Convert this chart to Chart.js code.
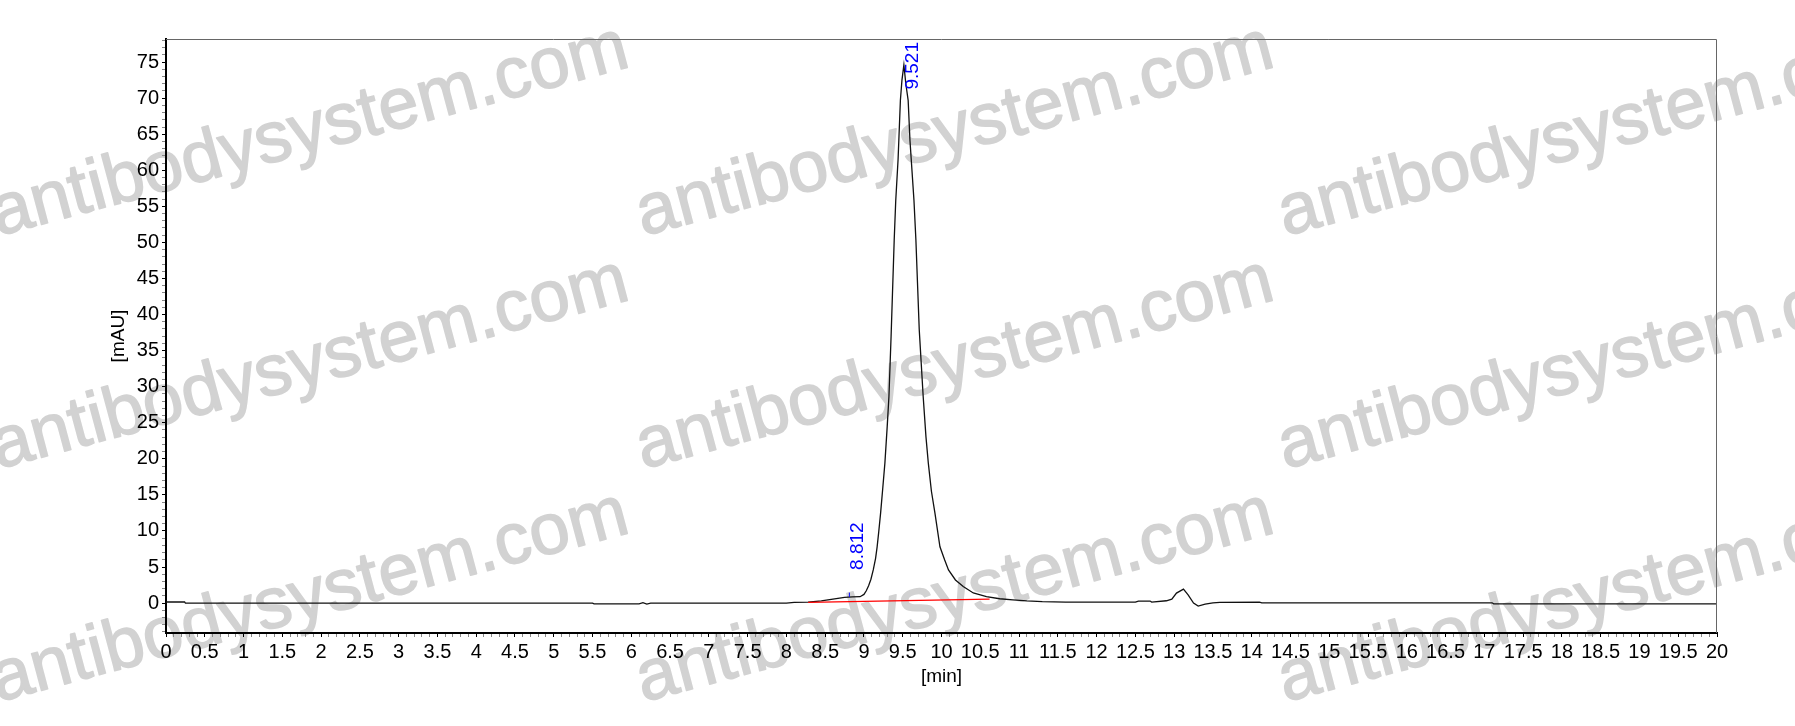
<!DOCTYPE html>
<html>
<head>
<meta charset="utf-8">
<title>Chromatogram</title>
<script src="https://cdn.jsdelivr.net/npm/chart.js@4.4.1/dist/chart.umd.min.js"></script>
<style>
  html, body { margin: 0; padding: 0; background: #fff; }
  #wrap { width: 1795px; height: 726px; }
</style>
</head>
<body>
<div id="wrap"><canvas id="chromChart" width="1795" height="726"></canvas></div>
<script>
// Retention time [min] and detector signal [mAU]
const retentionTimes = [
  0, 0.24, 0.25, 2.0, 4.0, 5.5, 5.52, 6.1, 6.15, 6.2, 6.25, 7.0, 8.0, 8.1,
  8.28, 8.45, 8.6, 8.75, 8.85, 8.95, 9.0, 9.03, 9.06, 9.09, 9.12, 9.15, 9.17,
  9.19, 9.215, 9.24, 9.27, 9.3, 9.322, 9.35, 9.39, 9.41, 9.44, 9.47, 9.49,
  9.515, 9.54, 9.57, 9.593, 9.645, 9.67, 9.69, 9.713, 9.764, 9.8, 9.83, 9.87,
  9.915, 9.98, 10.04, 10.09, 10.18, 10.28, 10.41, 10.58, 10.75, 10.92, 11.1,
  11.3, 11.6, 12.0, 12.5, 12.54, 12.69, 12.71, 12.9, 12.97, 13.03, 13.12,
  13.18, 13.25, 13.31, 13.4, 13.5, 13.59, 14.1, 14.13, 17.1, 17.12, 20
];
const signalMAU = [
  0.15, 0.15, 0.0, 0.0, 0.0, 0.0, -0.1, -0.1, 0.05, -0.15, 0.0, 0.0, 0.0, 0.1,
  0.12, 0.3, 0.55, 0.78, 0.85, 0.88, 1.2, 1.7, 2.4, 3.3, 4.6, 6.2, 7.8,
  9.8, 12.5, 15.6, 19.4, 24.5, 28.6, 37.0, 50.3, 55.8, 61.5, 69.7, 72.5,
  74.6, 72.0, 69.7, 64.2, 55.8, 50.3, 44.5, 37.9, 28.6, 23.0, 19.4, 15.5,
  12.5, 7.8, 6.0, 4.6, 3.2, 2.3, 1.4, 0.9, 0.6, 0.45, 0.3,
  0.2, 0.14, 0.14, 0.14, 0.28, 0.28, 0.14, 0.32, 0.55, 1.38, 1.94,
  1.15, 0.0, -0.42, -0.15, 0.04, 0.1, 0.14, 0.04, 0.04, -0.1, -0.1
];

// Integration baseline of the main peak (red)
const baselineTimes = [8.28, 10.62];
const baselineMAU = [0.1, 0.55];

// Integrated peaks: retention time and apex height
const peakTimes = [8.812, 9.521];
const peakHeights = [0.85, 74.6];
const peakMarkerMAU = [0.85, 1.45];

// Axis tick labels
const xTickLabels = ['0', '0.5', '1', '1.5', '2', '2.5', '3', '3.5', '4', '4.5', '5', '5.5',
  '6', '6.5', '7', '7.5', '8', '8.5', '9', '9.5', '10', '10.5', '11', '11.5', '12', '12.5',
  '13', '13.5', '14', '14.5', '15', '15.5', '16', '16.5', '17', '17.5', '18', '18.5', '19',
  '19.5', '20'];
const yTickLabels = ['0', '5', '10', '15', '20', '25', '30', '35', '40', '45', '50', '55',
  '60', '65', '70', '75'];

const FONT = '"Liberation Sans", Arial, sans-serif';

function tickText(v) {
  return String(Math.round(v * 10) / 10);
}

// white background + diagonal watermark, drawn under everything
const watermarkPlugin = {
  id: 'watermark',
  beforeDraw(chart) {
    const ctx = chart.ctx;
    ctx.save();
    ctx.fillStyle = '#fff';
    ctx.fillRect(0, 0, chart.width, chart.height);
    ctx.fillStyle = '#d2d2d2';
    ctx.strokeStyle = '#d2d2d2';
    ctx.lineWidth = 1.5;
    ctx.lineJoin = 'round';
    ctx.font = '72px ' + FONT;
    ctx.textAlign = 'left';
    ctx.textBaseline = 'alphabetic';
    const cols = [-2, 643, 1285];
    const rows = [236, 469, 702];
    rows.forEach(y => {
      cols.forEach(x => {
        ctx.save();
        ctx.translate(x, y);
        ctx.rotate(-15 * Math.PI / 180);
        ctx.fillText('antibodysystem.com', 0, 0);
        ctx.strokeText('antibodysystem.com', 0, 0);
        ctx.restore();
      });
    });
    ctx.restore();
  }
};

// frame on top/right and rotated peak labels
const annotatePlugin = {
  id: 'annotate',
  afterDatasetsDraw(chart) {
    const ctx = chart.ctx;
    const area = chart.chartArea;
    const xs = chart.scales.x;
    const ys = chart.scales.y;
    ctx.save();
    ctx.strokeStyle = '#666';
    ctx.lineWidth = 1;
    ctx.beginPath();
    ctx.moveTo(area.left, area.top + 0.5);
    ctx.lineTo(area.right - 0.5, area.top + 0.5);
    ctx.lineTo(area.right - 0.5, area.bottom);
    ctx.stroke();

    ctx.fillStyle = '#0000ff';
    ctx.font = '19px ' + FONT;
    ctx.textAlign = 'left';
    ctx.textBaseline = 'top';
    peakTimes.forEach((t, i) => {
      const label = t.toFixed(3);
      const w = ctx.measureText(label).width;
      const px = xs.getPixelForValue(t);
      let start = ys.getPixelForValue(peakHeights[i]) - 27;
      if (start - w < area.top + 3) start = area.top + 3 + w;
      ctx.save();
      ctx.translate(px - 1, start);
      ctx.rotate(-Math.PI / 2);
      ctx.fillText(label, 0, 0);
      ctx.restore();
    });
    ctx.restore();
  }
};

const trace = retentionTimes.map((t, i) => ({ x: t, y: signalMAU[i] }));
const baseline = baselineTimes.map((t, i) => ({ x: t, y: baselineMAU[i] }));
const marker = peakMarkerMAU.map(v => ({ x: peakTimes[0], y: v }));

new Chart(document.getElementById('chromChart'), {
  type: 'line',
  data: {
    datasets: [
      {
        label: 'baseline',
        data: baseline,
        borderColor: '#ff0000',
        borderWidth: 1.2,
        pointRadius: 0,
        tension: 0
      },
      {
        label: 'marker',
        data: marker,
        borderColor: '#0000ff',
        borderWidth: 1,
        pointRadius: 0,
        tension: 0
      },
      {
        label: 'signal',
        data: trace,
        borderColor: '#111',
        borderWidth: 1.3,
        pointRadius: 0,
        tension: 0
      }
    ]
  },
  options: {
    responsive: false,
    animation: false,
    events: [],
    layout: { padding: { left: 0, right: 78, top: 39, bottom: 0 } },
    plugins: {
      legend: { display: false },
      tooltip: { enabled: false }
    },
    scales: {
      x: {
        type: 'linear',
        min: 0,
        max: 20,
        afterFit(scale) { scale.height = 93; },
        border: { color: '#000', width: 2 },
        grid: {
          drawOnChartArea: false,
          drawTicks: true,
          tickLength: 4,
          tickColor: ctx => xTickLabels.includes(tickText(ctx.tick.value)) ? '#000' : '#888'
        },
        ticks: {
          stepSize: 0.1,
          autoSkip: false,
          maxRotation: 0,
          includeBounds: false,
          padding: 3,
          color: '#000',
          font: { family: FONT, size: 20 },
          callback: v => xTickLabels.includes(tickText(v)) ? tickText(v) : ''
        },
        title: {
          display: true,
          text: '[min]',
          color: '#000',
          font: { family: FONT, size: 19 },
          padding: { top: 0, bottom: 38 }
        }
      },
      y: {
        type: 'linear',
        min: -4.15,
        max: 78.2,
        afterFit(scale) { scale.width = 166; },
        border: { color: '#000', width: 2 },
        grid: {
          drawOnChartArea: false,
          drawTicks: true,
          tickLength: 4,
          tickColor: ctx => yTickLabels.includes(tickText(ctx.tick.value)) ? '#000' : '#888'
        },
        ticks: {
          stepSize: 1,
          autoSkip: false,
          includeBounds: false,
          padding: 3,
          color: '#000',
          font: { family: FONT, size: 20 },
          callback: v => yTickLabels.includes(tickText(v)) ? tickText(v) : ''
        },
        title: {
          display: true,
          text: '[mAU]',
          color: '#000',
          font: { family: FONT, size: 19 },
          padding: { top: 107, bottom: 0 }
        }
      }
    }
  },
  plugins: [watermarkPlugin, annotatePlugin]
});
</script>
</body>
</html>
